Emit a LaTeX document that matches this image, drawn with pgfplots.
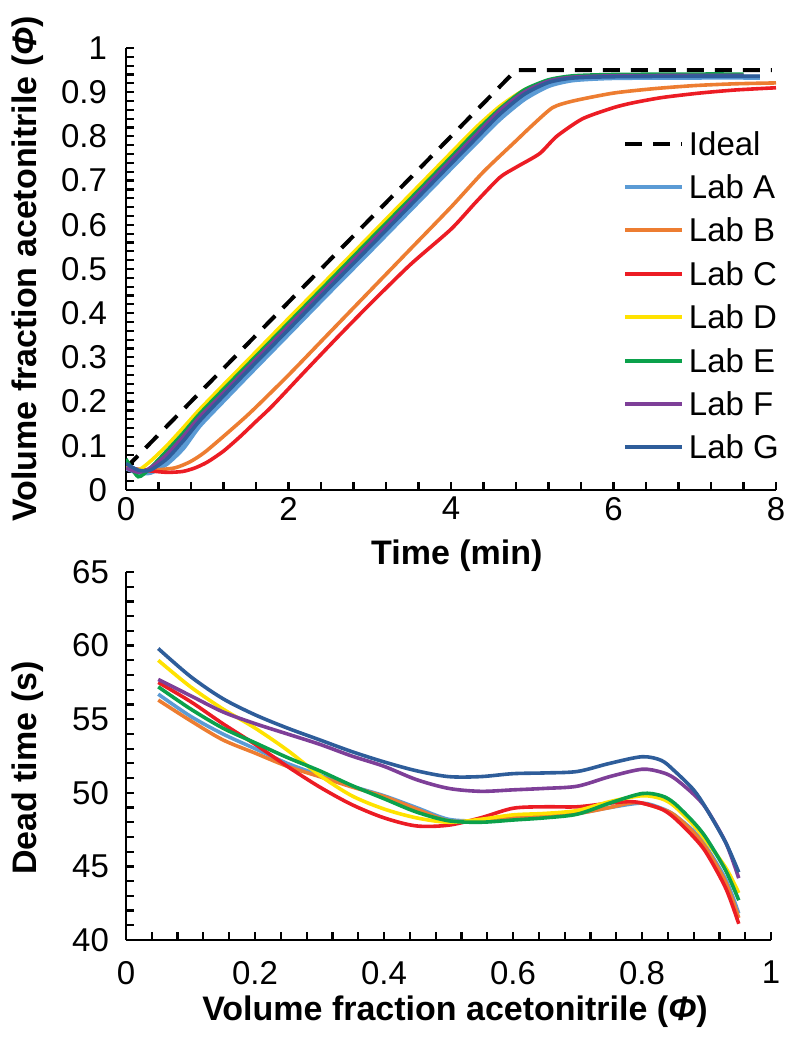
\documentclass[border=0pt]{standalone}
\usepackage{fontspec}
\setmainfont{Liberation Sans}
\usepackage{pgfplots}
\pgfplotsset{compat=1.18}
\definecolor{labA}{HTML}{5B9BD5}
\definecolor{labB}{HTML}{ED7D31}
\definecolor{labC}{HTML}{EC1C24}
\definecolor{labD}{HTML}{FFE200}
\definecolor{labE}{HTML}{0BA14B}
\definecolor{labF}{HTML}{7E3F98}
\definecolor{labG}{HTML}{2E5D9A}
\begin{document}
\begin{tikzpicture}
\useasboundingbox (0,0) rectangle (400pt,524.5pt);
\pgfplotsset{
  every axis/.append style={
    scale only axis,
    axis lines=left,
    axis line style={-,line width=1.2pt,black},
    tick align=inside,
    minor tick num=4,
    major tick length=3.8pt,
    minor tick length=3.8pt,
    major tick style={black,line width=1.1pt},
    minor tick style={black,line width=1.1pt},
    /pgf/number format/assume math mode=true,
    tick label style={font=\fontsize{16.5}{19}\selectfont},
    label style={font=\fontsize{17}{20}\selectfont\bfseries},
  }
}
% ---------------- top axis ----------------
\begin{axis}[
  at={(63pt,279.5pt)}, anchor=south west,
  width=325pt, height=221pt,
  xmin=0, xmax=8, ymin=0, ymax=1,
  xtick={0,2,4,6,8},
  ytick={0,0.1,0.2,0.3,0.4,0.5,0.6,0.7,0.8,0.9,1},
  xlabel={Time (min)},
  ylabel={Volume fraction acetonitrile (\textit{Φ})},
  xlabel style={at={(axis description cs:0.509,0)},anchor=center,yshift=-33pt},
  ylabel style={at={(axis description cs:-0.151,0.5)},anchor=center},
  yticklabel style={xshift=-6pt},
  legend style={at={(0.7646,0.813)}, anchor=north west, draw=none, fill=none,
    inner sep=0pt, row sep=9.2pt, font=\fontsize{16.5}{19}\selectfont,
    nodes={inner sep=0pt, text height=12pt, text depth=0.5pt},
    cells={anchor=west}},
  legend image code/.code={\draw[#1, line width=2pt] (0pt,0pt) -- (28.5pt,0pt); \path (30.5pt,0pt);},
]
\addplot[black, line width=2pt, dash pattern=on 8.5pt off 5.5pt] coordinates {(0,0.05) (4.8,0.95) (7.95,0.95)};
\addlegendentry{Ideal}
\addplot[labA, line width=2.6pt, smooth, tension=0.4] table {
0 0.05
0.15 0.04
0.3 0.04
0.5 0.06
0.7 0.095
0.9 0.145
1.2 0.203
1.5 0.26
2 0.354
2.5 0.448
3 0.541
3.5 0.635
4 0.729
4.3 0.785
4.6 0.84
4.9 0.885
5.2 0.915
5.5 0.928
6 0.933
7 0.934
7.8 0.934
};
\addlegendentry{Lab A}
\addplot[labB, line width=1.8pt, smooth, tension=0.4] table {
0 0.05
0.3 0.045
0.6 0.05
0.8 0.065
1.0 0.09
1.5 0.17
2 0.26
2.5 0.355
3 0.45
3.5 0.545
4 0.64
4.4 0.72
4.8 0.79
5.0 0.825
5.25 0.865
5.5 0.88
6 0.898
6.5 0.908
7 0.915
7.5 0.919
8 0.921
};
\addlegendentry{Lab B}
\addplot[labC, line width=1.8pt, smooth, tension=0.4] table {
0 0.05
0.2 0.045
0.5 0.04
0.7 0.042
0.85 0.05
1.0 0.063
1.2 0.088
1.4 0.12
1.6 0.155
1.8 0.19
2.2 0.268
2.6 0.345
3 0.42
3.5 0.51
4 0.59
4.3 0.65
4.6 0.707
4.8 0.73
5.09 0.761
5.3 0.8
5.62 0.84
6 0.865
6.24 0.876
6.6 0.888
7.06 0.898
7.5 0.905
8 0.91
};
\addlegendentry{Lab C}
\addplot[labD, line width=1.8pt, smooth, tension=0.4] table {
0 0.05
0.15 0.045
0.3 0.065
0.5 0.1
0.7 0.14
0.9 0.181
1.2 0.238
1.5 0.294
2 0.388
2.5 0.481
3 0.575
3.5 0.669
4 0.763
4.3 0.819
4.6 0.868
4.9 0.905
5.2 0.926
5.5 0.935
6 0.938
7 0.939
7.5 0.939
};
\addlegendentry{Lab D}
\addplot[labE, line width=1.8pt, smooth, tension=0.4] table {
0 0.07
0.15 0.03
0.3 0.05
0.5 0.088
0.7 0.128
0.9 0.171
1.2 0.228
1.5 0.284
2 0.378
2.5 0.472
3 0.566
3.5 0.659
4 0.753
4.3 0.81
4.6 0.862
4.9 0.905
5.2 0.928
5.5 0.937
6 0.94
7 0.941
7.6 0.941
};
\addlegendentry{Lab E}
\addplot[labF, line width=1.8pt, smooth, tension=0.4] table {
0 0.05
0.15 0.04
0.3 0.05
0.5 0.08
0.7 0.12
0.9 0.164
1.2 0.22
1.5 0.277
2 0.371
2.5 0.464
3 0.558
3.5 0.652
4 0.746
4.3 0.802
4.6 0.858
4.9 0.9
5.2 0.925
5.5 0.934
6 0.937
7 0.938
7.6 0.938
};
\addlegendentry{Lab F}
\addplot[labG, line width=1.8pt, smooth, tension=0.4] table {
0 0.06
0.15 0.045
0.3 0.045
0.5 0.07
0.7 0.11
0.9 0.155
1.2 0.213
1.5 0.27
2 0.363
2.5 0.457
3 0.55
3.5 0.644
4 0.738
4.3 0.794
4.6 0.85
4.9 0.895
5.2 0.922
5.5 0.932
6 0.935
7 0.936
7.8 0.936
};
\addlegendentry{Lab G}
\end{axis}
% ---------------- bottom axis ----------------
\begin{axis}[
  at={(63pt,54.5pt)}, anchor=south west,
  width=322.5pt, height=184pt,
  xmin=0, xmax=1, ymin=40, ymax=65,
  xtick={0,0.2,0.4,0.6,0.8,1},
  ytick={40,45,50,55,60,65},
  xlabel={Volume fraction acetonitrile (\textit{Φ})},
  ylabel={Dead time (s)},
  xlabel style={at={(axis description cs:0.51,0)},anchor=center,yshift=-36pt},
  ylabel style={at={(axis description cs:-0.152,0.467)},anchor=center},
  xticklabel style={yshift=-7pt},
  yticklabel style={xshift=-5pt},
]
\addplot[labA, line width=1.8pt, smooth] table {
0.05 56.7
0.10 55.2
0.15 54.0
0.20 53.0
0.25 52.0
0.30 51.2
0.35 50.45
0.40 49.8
0.45 49.0
0.50 48.2
0.55 48.1
0.60 48.3
0.65 48.45
0.70 48.6
0.75 49.0
0.80 49.3
0.83 48.95
0.85 48.5
0.88 47.4
0.90 46.3
0.93 44.1
0.95 41.8
};
\addplot[labB, line width=1.8pt, smooth] table {
0.05 56.3
0.10 54.9
0.15 53.6
0.20 52.7
0.25 51.8
0.30 51.1
0.35 50.4
0.40 49.75
0.45 48.9
0.50 48.1
0.55 48.1
0.60 48.35
0.65 48.5
0.70 48.6
0.75 49.0
0.78 49.3
0.80 49.3
0.83 48.9
0.85 48.5
0.88 47.3
0.90 46.2
0.93 43.9
0.95 41.5
};
\addplot[labC, line width=1.8pt, smooth] table {
0.05 57.5
0.10 56.2
0.15 54.7
0.20 53.3
0.25 51.8
0.30 50.4
0.35 49.2
0.40 48.3
0.45 47.75
0.50 47.8
0.55 48.3
0.60 48.95
0.65 49.05
0.70 49.05
0.75 49.3
0.78 49.4
0.80 49.3
0.83 48.9
0.85 48.3
0.88 47.0
0.90 45.9
0.93 43.5
0.95 41.1
};
\addplot[labD, line width=1.8pt, smooth] table {
0.05 59.0
0.10 57.2
0.15 55.7
0.20 54.4
0.25 52.9
0.30 51.2
0.35 49.8
0.40 48.9
0.45 48.3
0.50 48.0
0.55 48.2
0.60 48.5
0.65 48.6
0.70 48.8
0.75 49.4
0.80 49.8
0.83 49.6
0.85 49.1
0.88 47.8
0.90 46.7
0.93 44.9
0.95 43.2
};
\addplot[labE, line width=1.8pt, smooth] table {
0.05 57.2
0.10 55.7
0.15 54.4
0.20 53.4
0.25 52.4
0.30 51.5
0.35 50.5
0.40 49.6
0.45 48.7
0.50 48.1
0.55 48.0
0.60 48.15
0.65 48.3
0.70 48.55
0.75 49.3
0.80 49.95
0.83 49.8
0.85 49.3
0.88 48.0
0.90 46.9
0.93 44.7
0.95 42.7
};
\addplot[labF, line width=1.8pt, smooth] table {
0.05 57.7
0.10 56.6
0.15 55.5
0.20 54.7
0.25 54.0
0.30 53.3
0.35 52.5
0.40 51.8
0.45 50.9
0.50 50.3
0.55 50.1
0.60 50.2
0.65 50.3
0.70 50.45
0.75 51.1
0.80 51.6
0.83 51.4
0.85 51.0
0.88 49.9
0.90 48.9
0.93 46.6
0.95 44.2
};
\addplot[labG, line width=1.8pt, smooth] table {
0.05 59.8
0.10 57.9
0.15 56.4
0.20 55.3
0.25 54.4
0.30 53.6
0.35 52.8
0.40 52.1
0.45 51.5
0.50 51.1
0.55 51.1
0.60 51.3
0.65 51.35
0.70 51.45
0.75 52.0
0.80 52.45
0.83 52.2
0.85 51.5
0.88 50.2
0.90 48.9
0.93 46.6
0.95 44.6
};
\end{axis}
\end{tikzpicture}
\end{document}
